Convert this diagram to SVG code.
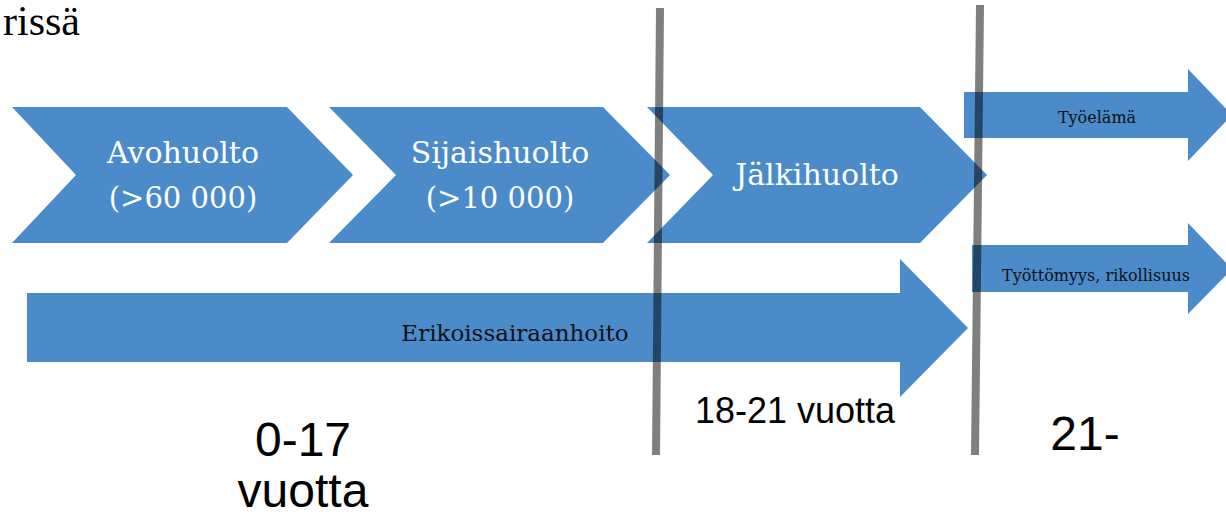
<svg xmlns="http://www.w3.org/2000/svg" width="1226" height="516" viewBox="0 0 1226 516">
<style>
.blue{fill:#4b8bca}
.wt{fill:#ffffff;font-family:"DejaVu Serif","Liberation Serif",serif;text-anchor:middle}
.bt{fill:#111111;font-family:"DejaVu Serif","Liberation Serif",serif;text-anchor:middle}
.st{fill:#000000;font-family:"Liberation Sans","DejaVu Sans",sans-serif;text-anchor:middle}
.div{stroke:#000000;stroke-opacity:0.5;stroke-width:8;fill:none}
</style>
<rect width="1226" height="516" fill="#ffffff"/>
<text x="80" y="35" style="fill:#000;font-family:'Liberation Serif','DejaVu Serif',serif;font-size:42px" text-anchor="end">rissä</text>
<g id="avohuolto">
<polygon class="blue" points="12,107 287,107 353,175 287,243 12,243 76,175"/>
<text class="wt" x="183" y="163" font-size="30">Avohuolto</text>
<text class="wt" x="183" y="208" font-size="29">(&gt;60 000)</text>
</g>
<g id="sijaishuolto">
<polygon class="blue" points="329,107 603,107 670,175 603,243 329,243 396,175"/>
<text class="wt" x="500" y="163" font-size="30">Sijaishuolto</text>
<text class="wt" x="500" y="208" font-size="29">(&gt;10 000)</text>
</g>
<g id="jalkihuolto">
<polygon class="blue" points="647,107 920,107 987,175 920,243 647,243 713,175"/>
<text class="wt" x="817" y="185" font-size="30">Jälkihuolto</text>
</g>
<g id="erikoissairaanhoito">
<polygon class="blue" points="27,293 900,293 900,259 968,328 900,397 900,362 27,362"/>
<text class="bt" x="515" y="341" font-size="23">Erikoissairaanhoito</text>
</g>
<g id="tyoelama">
<polygon class="blue" points="964,92 1188,92 1188,69 1232,115 1188,161 1188,138 964,138"/>
<text class="bt" x="1097" y="123" font-size="16">Työelämä</text>
</g>
<g id="tyottomyys">
<polygon class="blue" points="972,245 1188,245 1188,223 1232,269 1188,314 1188,292 972,292"/>
<text class="bt" x="1096" y="281" font-size="16">Työttömyys, rikollisuus</text>
</g>
<g id="connectors">
<line class="div" x1="660" y1="8" x2="656" y2="455"/>
<line class="div" x1="980" y1="5" x2="975" y2="455"/>
</g>
<g id="labels">
<text class="st" x="303" y="456" font-size="48">0-17</text>
<text class="st" x="303" y="507" font-size="48">vuotta</text>
<text class="st" x="795" y="423" font-size="36">18-21 vuotta</text>
<text class="st" x="1085" y="450" font-size="48">21-</text>
</g>
</svg>
